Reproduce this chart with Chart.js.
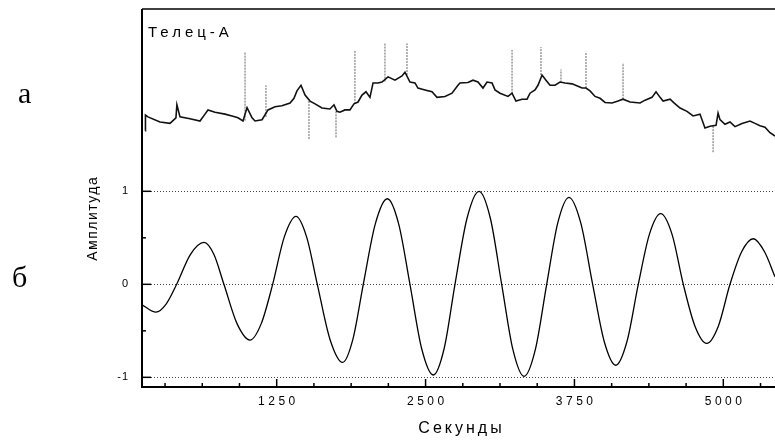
<!DOCTYPE html>
<html>
<head>
<meta charset="utf-8">
<script src="https://cdn.jsdelivr.net/npm/chart.js@4"></script>
<style>
  html, body { margin: 0; padding: 0; background: #fff; }
  #wrap { width: 775px; height: 441px; position: relative; }
</style>
</head>
<body>
<div id="wrap"><canvas id="chart"></canvas></div>
<script>
// panel б: the wave (seconds, amplitude)
const waveSec = [119, 236, 323, 410, 525, 640, 723, 807, 916, 1026,
  1121, 1216, 1314, 1412, 1501, 1591, 1697, 1804, 1890, 1977,
  2078, 2179, 2274, 2369, 2467, 2565, 2656, 2747, 2848, 2949,
  3044, 3139, 3233, 3327, 3422, 3517, 3610, 3704, 3803, 3903,
  4000, 4097, 4191, 4286, 4380, 4474, 4569, 4664, 4762, 4861,
  4958, 5056, 5154, 5252, 5346, 5434];
const waveAmp = [-0.22, -0.30, -0.21, 0, 0.32, 0.45, 0.32, 0, -0.42, -0.60,
  -0.42, 0, 0.51, 0.73, 0.51, 0, -0.59, -0.84, -0.59, 0,
  0.65, 0.92, 0.65, 0, -0.69, -0.975, -0.69, 0, 0.71, 1.0,
  0.71, 0, -0.70, -0.99, -0.70, 0, 0.66, 0.935, 0.66, 0,
  -0.615, -0.87, -0.615, 0, 0.54, 0.76, 0.54, 0, -0.45, -0.635,
  -0.45, 0, 0.35, 0.49, 0.35, 0.08];

// panel а: recorded trace "Телец-А" (same axes, shifted up)
const traceSec = [147, 148, 169, 270, 354, 404, 412, 438, 522, 606,
  648, 673, 732, 816, 875, 925, 967, 1001, 1043, 1068,
  1127, 1177, 1236, 1294, 1362, 1395, 1420, 1454, 1488, 1530,
  1572, 1630, 1697, 1731, 1756, 1781, 1823, 1865, 1899, 1933,
  1966, 2000, 2033, 2059, 2101, 2134, 2185, 2243, 2302, 2327,
  2369, 2411, 2436, 2495, 2554, 2596, 2663, 2722, 2772, 2789,
  2856, 2898, 2940, 2982, 3016, 3058, 3083, 3125, 3192, 3226,
  3259, 3310, 3352, 3377, 3419, 3444, 3478, 3511, 3545, 3587,
  3629, 3671, 3730, 3780, 3814, 3847, 3881, 3923, 3965, 4007,
  4066, 4116, 4158, 4217, 4301, 4343, 4401, 4435, 4469, 4494,
  4553, 4586, 4637, 4695, 4746, 4804, 4846, 4888, 4939, 4956,
  4972, 5014, 5056, 5098, 5157, 5224, 5266, 5308, 5350, 5392,
  5434];
const traceAmp = [1.65, 1.82, 1.80, 1.745, 1.73, 1.79, 1.93, 1.80, 1.78, 1.756,
  1.83, 1.875, 1.85, 1.83, 1.81, 1.79, 1.756, 1.90, 1.79, 1.756,
  1.77, 1.875, 1.91, 1.92, 1.95, 2.00, 2.08, 2.14, 2.035, 1.97,
  1.94, 1.895, 1.885, 1.93, 1.86, 1.85, 1.875, 1.875, 1.94, 1.96,
  2.035, 2.07, 2.01, 2.165, 2.165, 2.175, 2.23, 2.195, 2.24, 2.28,
  2.175, 2.165, 2.11, 2.09, 2.07, 2.01, 2.02, 2.055, 2.14, 2.165,
  2.17, 2.195, 2.175, 2.11, 2.175, 2.165, 2.09, 2.055, 2.02, 2.055,
  1.97, 1.99, 1.99, 2.055, 2.09, 2.14, 2.25, 2.195, 2.14, 2.14,
  2.175, 2.165, 2.155, 2.13, 2.11, 2.11, 2.08, 2.02, 2.00, 1.955,
  1.95, 1.97, 1.99, 1.96, 1.95, 1.98, 2.01, 2.07, 2.01, 1.97,
  1.99, 1.95, 1.895, 1.86, 1.81, 1.83, 1.68, 1.70, 1.71, 1.84,
  1.77, 1.72, 1.745, 1.695, 1.73, 1.756, 1.73, 1.705, 1.69, 1.63,
  1.595];

// spikes in the trace: position, start level, tip level
const spikeSec  = [984, 1160, 1521, 1748, 1907, 2159, 2344, 3226, 3469, 3637, 3847, 4158, 4914];
const spikeBase = [1.76, 1.80, 1.97, 1.86, 1.94, 2.18, 2.25, 2.05, 2.25, 2.17, 2.11, 1.99, 1.70];
const spikeTop  = [2.50, 2.14, 1.55, 1.58, 2.52, 2.59, 2.59, 2.52, 2.55, 2.31, 2.50, 2.38, 1.41];

const xMajorTicks = [1250, 2500, 3750, 5000];
const xMinorTicks = [312.5, 625, 937.5, 1562.5, 1875, 2187.5, 2812.5, 3125, 3437.5,
  4062.5, 4375, 4687.5, 5312.5];
const yMajorTicks = [-1, 0, 1];
const yMinorTicks = [-0.5, 0.5];

const spikeData = [];
spikeSec.forEach((s, i) => {
  spikeData.push({x: s, y: spikeBase[i]}, {x: s, y: spikeTop[i]}, {x: s, y: null});
});

function spacedText(ctx, text, x, y, spacing, align) {
  ctx.letterSpacing = spacing + 'px';
  const w = ctx.measureText(text).width - spacing;
  let sx = x;
  if (align === 'center') sx = x - w / 2;
  if (align === 'right') sx = x - w;
  ctx.textAlign = 'left';
  ctx.fillText(text, sx, y);
  ctx.letterSpacing = '0px';
}

const frame = {
  id: 'frame',
  beforeDatasetsDraw(chart) {
    const {ctx, chartArea: a, scales: {y}} = chart;
    ctx.save();
    ctx.strokeStyle = '#444';
    ctx.lineWidth = 1;
    ctx.setLineDash([1, 2]);
    yMajorTicks.forEach(v => {
      const py = Math.round(y.getPixelForValue(v)) + 0.5;
      ctx.beginPath(); ctx.moveTo(a.left, py); ctx.lineTo(a.right, py); ctx.stroke();
    });
    ctx.restore();
  },
  afterDatasetsDraw(chart) {
    const {ctx, chartArea: a, scales: {x, y}} = chart;
    ctx.save();
    ctx.strokeStyle = '#000';
    ctx.fillStyle = '#000';

    // frame lines
    ctx.lineWidth = 1.5;
    ctx.beginPath();
    ctx.moveTo(a.left, a.top); ctx.lineTo(a.right, a.top);
    ctx.stroke();
    ctx.lineWidth = 2;
    ctx.beginPath();
    ctx.moveTo(a.left, a.top); ctx.lineTo(a.left, a.bottom); ctx.lineTo(a.right, a.bottom);
    ctx.stroke();

    // inward ticks
    ctx.lineWidth = 1.5;
    yMajorTicks.forEach(v => {
      const py = y.getPixelForValue(v);
      ctx.beginPath(); ctx.moveTo(a.left, py); ctx.lineTo(a.left + 9, py); ctx.stroke();
    });
    yMinorTicks.forEach(v => {
      const py = y.getPixelForValue(v);
      ctx.beginPath(); ctx.moveTo(a.left, py); ctx.lineTo(a.left + 4, py); ctx.stroke();
    });
    xMajorTicks.forEach(v => {
      const px = x.getPixelForValue(v);
      ctx.beginPath(); ctx.moveTo(px, a.bottom); ctx.lineTo(px, a.bottom - 8); ctx.stroke();
    });
    xMinorTicks.forEach(v => {
      const px = x.getPixelForValue(v);
      ctx.beginPath(); ctx.moveTo(px, a.bottom); ctx.lineTo(px, a.bottom - 4); ctx.stroke();
    });

    // tick labels
    ctx.textBaseline = 'middle';
    ctx.font = '11px "Liberation Sans", Arial, sans-serif';
    yMajorTicks.forEach(v => {
      spacedText(ctx, String(v), a.left - 14, y.getPixelForValue(v), 1, 'right');
    });
    ctx.textBaseline = 'alphabetic';
    ctx.font = '12px "Liberation Sans", Arial, sans-serif';
    xMajorTicks.forEach(v => {
      spacedText(ctx, String(v), x.getPixelForValue(v), a.bottom + 18, 3.5, 'center');
    });

    // axis titles and captions
    ctx.font = '16px "Liberation Sans", Arial, sans-serif';
    spacedText(ctx, 'Секунды', 460, 433, 3, 'center');

    ctx.save();
    ctx.translate(97, 219);
    ctx.rotate(-Math.PI / 2);
    ctx.font = '14px "Liberation Sans", Arial, sans-serif';
    spacedText(ctx, 'Амплитуда', 0, 0, 1.5, 'center');
    ctx.restore();

    ctx.font = '15px "Liberation Sans", Arial, sans-serif';
    spacedText(ctx, 'Телец-А', a.left + 6, 37, 4, 'left');

    ctx.font = '30px "Liberation Serif", "Times New Roman", serif';
    spacedText(ctx, 'а', 18, 103, 0, 'left');
    spacedText(ctx, 'б', 12, 287, 0, 'left');
    ctx.restore();
  }
};

new Chart(document.getElementById('chart'), {
  type: 'line',
  data: {
    datasets: [
      {
        label: 'wave',
        data: waveSec.map((s, i) => ({x: s, y: waveAmp[i]})),
        borderColor: '#000',
        borderWidth: 1.3,
        pointRadius: 0,
        cubicInterpolationMode: 'monotone'
      },
      {
        label: 'trace',
        data: traceSec.map((s, i) => ({x: s, y: traceAmp[i]})),
        borderColor: '#111',
        borderWidth: 1.6,
        pointRadius: 0,
        tension: 0
      },
      {
        label: 'spikes',
        data: spikeData,
        borderColor: '#666',
        borderWidth: 1,
        borderDash: [2, 1],
        pointRadius: 0,
        spanGaps: false,
        tension: 0
      }
    ]
  },
  options: {
    responsive: true,
    maintainAspectRatio: false,
    animation: false,
    layout: { padding: { left: 142, top: 9, right: 0, bottom: 54 } },
    plugins: { legend: { display: false }, tooltip: { enabled: false } },
    scales: {
      x: { type: 'linear', min: 119, max: 5434, display: false },
      y: { type: 'linear', min: -1.104, max: 2.96, display: false }
    }
  },
  plugins: [frame]
});
</script>
</body>
</html>
